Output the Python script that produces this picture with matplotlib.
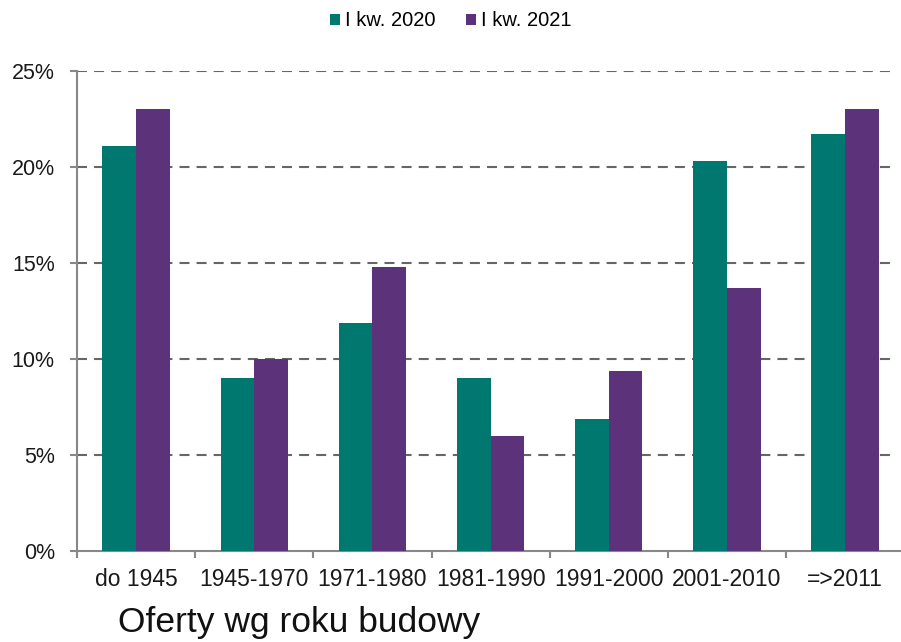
import matplotlib
matplotlib.use("Agg")
import matplotlib.pyplot as plt
import numpy as np
from matplotlib.ticker import FuncFormatter, FixedLocator

plt.rcParams['font.family'] = ['Liberation Sans', 'DejaVu Sans']

categories = ["do 1945", "1945-1970", "1971-1980", "1981-1990", "1991-2000", "2001-2010", "=>2011"]
series_names = ["I kw. 2020", "I kw. 2021"]
values_2020 = [21.1, 9.0, 11.9, 9.0, 6.9, 20.3, 21.7]
values_2021 = [23.0, 10.0, 14.8, 6.0, 9.4, 13.7, 23.0]
yticks = [0, 5, 10, 15, 20, 25]
title = "Oferty wg roku budowy"

c2020 = "#00776F"
c2021 = "#5C327A"

fig = plt.figure(figsize=(9.01, 6.42), dpi=100)
ax = fig.add_axes([0.0855, 0.1417, 0.918, 0.7477])

x = np.arange(len(categories))
w = 0.285
ax.bar(x - w/2, values_2020, w, color=c2020, label=series_names[0], zorder=3)
ax.bar(x + w/2, values_2021, w, color=c2021, label=series_names[1], zorder=3)

ax.set_xlim(-0.5, len(categories) - 0.5)
ax.set_ylim(0, 25)
ax.set_yticks(yticks)
ax.yaxis.set_major_formatter(FuncFormatter(lambda v, p: f"{int(v)}%"))
ax.set_xticks(x)
ax.set_xticklabels(categories)
ax.xaxis.set_minor_locator(FixedLocator(np.arange(-0.5, len(categories), 1.0)))
ax.tick_params(axis='x', which='major', length=0, pad=12, labelsize=16.5, colors='#1a1a1a')
ax.tick_params(axis='x', which='minor', length=5, width=1.5, color='#888888', direction='out')
ax.tick_params(axis='y', length=5, width=1.5, color='#888888', labelsize=15.5, pad=11, labelcolor='#1a1a1a')

for y in yticks[1:]:
    ax.axhline(y, xmin=0, xmax=0.989, color='#666666', linestyle=(0, (4.8, 3.4)), linewidth=1.5, zorder=1)

for s in ['top', 'right']:
    ax.spines[s].set_visible(False)
for s in ['left', 'bottom']:
    ax.spines[s].set_color('#888888')
    ax.spines[s].set_linewidth(1.5)

leg = fig.legend(loc='center', bbox_to_anchor=(0.5, 1 - 21/642), ncol=2, frameon=False,
                 fontsize=14.5, handlelength=0.5, handleheight=0.5, handletextpad=0.25,
                 columnspacing=1.5, borderaxespad=0, borderpad=0)

fig.text(118/901, 10/642, title, fontsize=25.5, color='#111111', ha='left', va='baseline')

fig.savefig("out.png", dpi=100)
